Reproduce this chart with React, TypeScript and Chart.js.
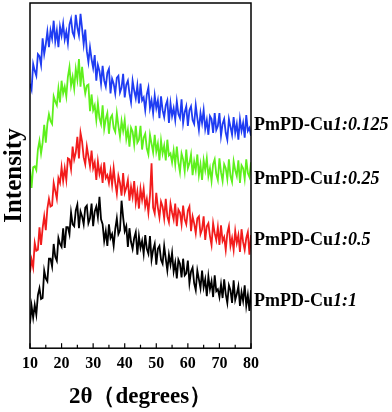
import React, { useEffect, useRef } from "react";
import { Chart, registerables } from "chart.js";

Chart.register(...registerables);

// 2θ sampling grid (degrees)
const THETA = [10,10.5,11,11.5,12,12.5,13,13.5,14,14.5,15,15.5,16,16.5,17,17.5,18,18.5,19,19.5,20,20.5,21,21.5,22,22.5,23,23.5,24,24.5,25,25.5,26,26.5,27,27.5,28,28.5,29,29.5,30,30.5,31,31.5,32,32.5,33,33.5,34,34.5,35,35.5,36,36.5,37,37.5,38,38.5,39,39.5,40,40.5,41,41.5,42,42.5,43,43.5,44,44.5,45,45.5,46,46.5,47,47.5,48,48.5,49,49.5,50,50.5,51,51.5,52,52.5,53,53.5,54,54.5,55,55.5,56,56.5,57,57.5,58,58.5,59,59.5,60,60.5,61,61.5,62,62.5,63,63.5,64,64.5,65,65.5,66,66.5,67,67.5,68,68.5,69,69.5,70,70.5,71,71.5,72,72.5,73,73.5,74,74.5,75,75.5,76,76.5,77,77.5,78,78.5,79,79.5,80];

// Stacked (offset) intensities, arbitrary units
const CU_1_0125 = [269,263,289,282,277,299,297,288,315,299,
309,322,306,323,315,333,312,323,306,327,
318,330,314,322,310,329,335,321,317,339,
326,318,340,325,309,324,302,291,306,294,
285,298,272,288,282,269,287,272,266,280,
284,259,274,269,259,275,277,260,265,279,
255,268,272,259,250,272,262,254,267,249,
269,252,255,242,258,265,244,252,239,257,
244,252,234,256,242,235,247,252,229,249,
236,244,232,251,238,234,253,229,240,246,
226,242,246,232,228,247,234,222,239,229,
242,223,232,217,236,233,219,239,222,226,
239,216,228,233,219,212,233,225,217,235,
219,228,212,233,221,229,214,237,221,224,
216];

const CU_1_025 = [182,163,184,185,181,202,211,198,209,227,
209,228,238,231,228,256,251,247,264,250,
272,259,266,256,276,286,267,276,264,284,
273,294,266,286,270,259,267,268,241,258,
242,247,232,249,234,228,247,223,233,239,
218,234,237,224,220,239,226,215,231,221,
232,213,222,205,224,220,207,226,209,212,
226,202,214,218,203,197,217,208,199,217,
200,208,191,211,198,206,191,212,196,198,
189,201,187,205,189,179,198,192,180,202,
183,188,197,176,190,181,197,176,187,171,
191,181,193,175,183,170,187,192,177,171,
193,179,170,187,183,172,192,175,169,190,
181,175,191,168,186,183,172,192,178,174,
189];

const CU_1_05 = [77,90,82,107,99,100,123,105,122,134,
120,142,152,144,145,168,160,152,173,168,
184,170,183,171,193,192,182,205,192,199,
215,193,219,210,194,187,205,195,185,201,
183,189,171,190,177,184,168,189,173,176,
168,180,166,183,168,157,175,168,155,178,
158,163,171,150,164,154,170,148,159,142,
162,151,162,144,152,138,155,188,143,137,
158,143,133,149,144,132,152,134,128,147,
138,131,147,124,141,138,126,145,131,126,
140,144,119,134,127,117,132,134,116,121,
134,110,124,127,114,105,127,117,110,123,
105,125,109,113,100,117,124,104,112,100,
119,107,115,98,121,108,100,112,118,95,
115];

const CU_1_1 = [25,43,31,44,34,54,61,50,51,79,
71,68,91,91,83,106,93,89,112,106,
103,122,102,123,123,116,138,126,124,140,
146,122,139,134,126,143,145,127,132,147,
124,139,144,133,154,131,126,109,119,104,
126,112,116,104,121,132,116,120,150,133,
119,124,103,122,108,101,112,118,95,114,
102,109,96,115,101,96,114,90,100,106,
85,101,104,90,86,104,91,79,95,85,
97,78,87,71,90,86,72,91,74,76,
89,66,78,82,66,59,79,70,61,79,
62,70,53,73,60,68,52,74,58,60,
52,65,51,70,55,46,64,59,46,69,
49,55,63,43,57,48,64,43,54,38,
59];

const SAMPLE_PREFIX = "PmPD-Cu";
const RATIOS = ["1:0.125", "1:0.25", "1:0.5", "1:1"];
const LABEL_Y = [227, 172, 110, 48];
const COLORS = ["#1f3cf2", "#5ef01c", "#f21c1c", "#000000"];
const SERIES = [CU_1_0125, CU_1_025, CU_1_05, CU_1_1];
const X_MARKS = [10, 15, 20, 25, 30, 35, 40, 45, 50, 55, 60, 65, 70, 75, 80];

const SERIF = '"Liberation Serif", "Times New Roman", serif';

const framePlugin = {
  id: "frameAndLabels",
  afterDraw(chart: any) {
    const { ctx, chartArea: a, scales } = chart;
    ctx.save();
    ctx.strokeStyle = "#000";
    ctx.lineWidth = 1.5;
    ctx.strokeRect(a.left, a.top, a.right - a.left, a.bottom - a.top);
    ctx.lineWidth = 1.2;
    for (const t of X_MARKS) {
      const x = scales.x.getPixelForValue(t);
      const len = t % 10 === 0 ? 5 : 3.5;
      ctx.beginPath();
      ctx.moveTo(x, a.bottom);
      ctx.lineTo(x, a.bottom - len);
      ctx.stroke();
    }
    ctx.fillStyle = "#000";
    ctx.textBaseline = "middle";
    ctx.textAlign = "left";
    RATIOS.forEach((r, i) => {
      const y = scales.y.getPixelForValue(LABEL_Y[i]);
      const x0 = a.right + 3;
      ctx.font = `bold 18px ${SERIF}`;
      ctx.fillText(SAMPLE_PREFIX, x0, y);
      const w = ctx.measureText(SAMPLE_PREFIX).width;
      ctx.font = `italic bold 18px ${SERIF}`;
      ctx.fillText(r, x0 + w, y);
    });
    ctx.restore();
  },
};

export default function App() {
  const ref = useRef<HTMLCanvasElement | null>(null);
  useEffect(() => {
    document.body.style.margin = "0";
    if (!ref.current) return;
    const chart = new Chart(ref.current, {
      type: "line",
      data: {
        datasets: SERIES.map((s, i) => ({
          label: SAMPLE_PREFIX + RATIOS[i],
          data: THETA.map((t, k) => ({ x: t, y: s[k] })),
          borderColor: COLORS[i],
          borderWidth: 1.8,
          pointRadius: 0,
          tension: 0,
          fill: false,
        })),
      },
      options: {
        responsive: false,
        animation: false,
        devicePixelRatio: 1,
        layout: { padding: { top: 3, right: 141, left: 0, bottom: 0 } },
        plugins: { legend: { display: false }, tooltip: { enabled: false } },
        scales: {
          x: {
            type: "linear",
            min: 10,
            max: 80,
            grid: { display: false, drawTicks: false },
            border: { display: false },
            ticks: {
              stepSize: 10,
              color: "#000",
              padding: 6,
              maxRotation: 0,
              font: { family: SERIF, size: 16, weight: "bold" },
            },
            title: {
              display: true,
              text: "2θ（degrees）",
              color: "#000",
              padding: { top: 4, bottom: 1 },
              font: { family: SERIF, size: 23, weight: "bold" },
            },
          },
          y: {
            min: 0,
            max: 351,
            grid: { display: false, drawTicks: false },
            border: { display: false },
            ticks: { display: false },
            title: {
              display: true,
              text: "Intensity",
              color: "#000",
              padding: { top: 0, bottom: 0 },
              font: { family: SERIF, size: 25, weight: "bold" },
            },
          },
        },
      },
      plugins: [framePlugin],
    });
    return () => chart.destroy();
  }, []);
  return (
    <div style={{ width: 392, height: 412 }}>
      <canvas ref={ref} width={392} height={412} />
    </div>
  );
}
